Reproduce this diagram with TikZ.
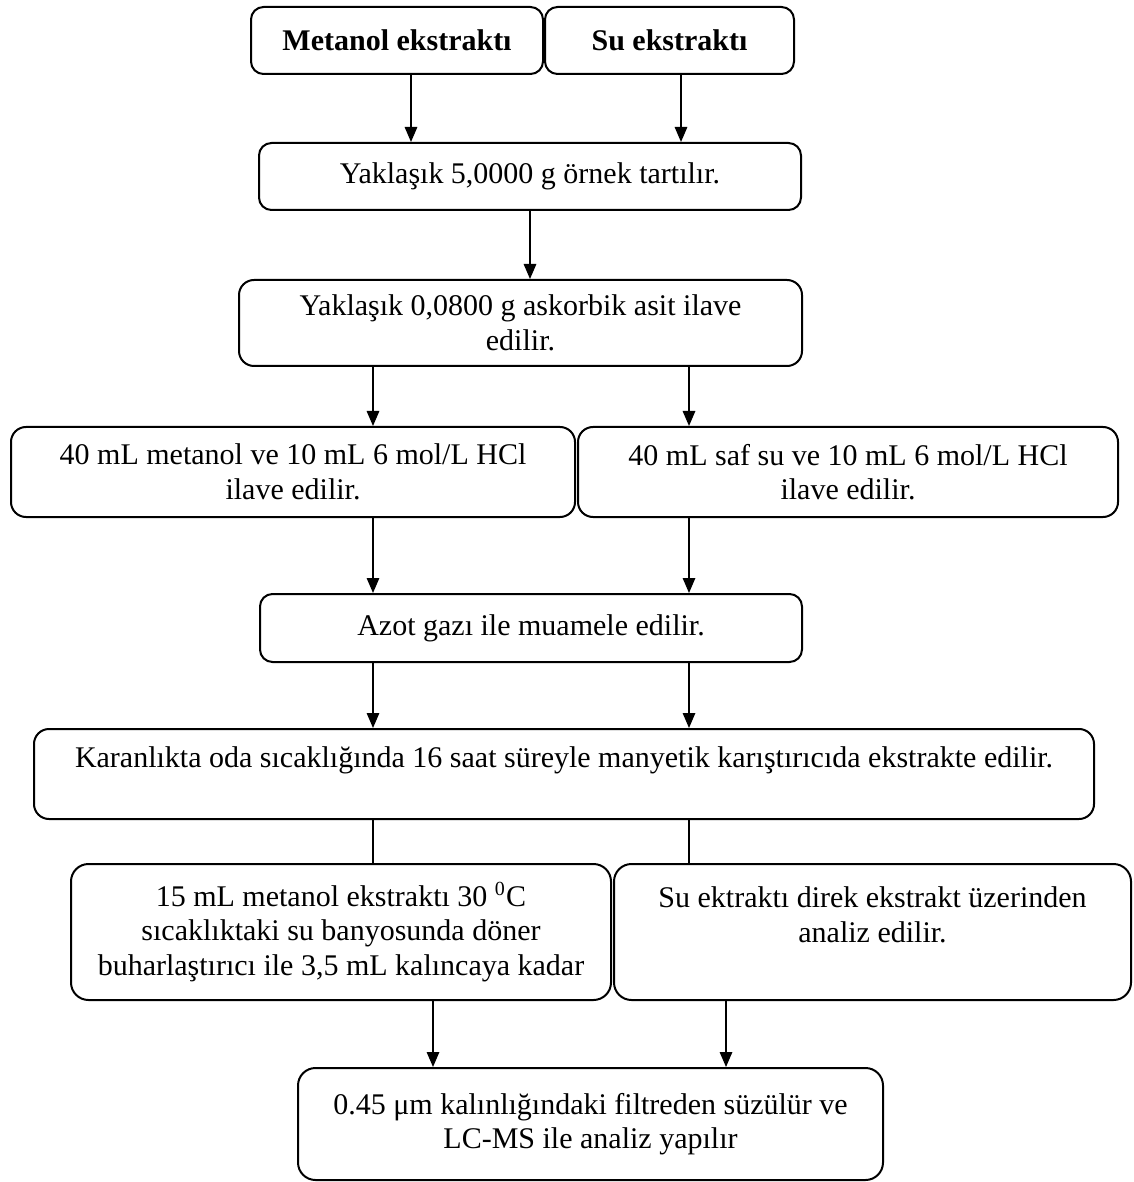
\documentclass[tikz,border=0pt]{standalone}
\usepackage{fontspec}
\setmainfont{Liberation Serif}
\usetikzlibrary{arrows.meta, positioning}

\begin{document}
\begin{tikzpicture}[
        node distance = 2cm, on grid,
        >= {Triangle[length = 6pt, width = 5pt]},
        stepbox/.style = {draw, thick, rounded corners = 6pt, align = center,
            inner sep = 0pt, font = \fontsize{12}{13.8}\selectfont},
        titlebox/.style = {stepbox, rounded corners = 5pt,
            font = \fontsize{12}{13.8}\selectfont\bfseries},
        link/.style = {line width = 0.6pt},
        flow/.style = {link, ->}
    ]
      \useasboundingbox (0,0) rectangle (453.2pt,-472.8pt);

      \node[titlebox, minimum width = 116.8pt, minimum height = 26.8pt] (met) at (158.8pt,-16.2pt) {Metanol ekstraktı};
      \node[titlebox, minimum width = 99.6pt, minimum height = 26.8pt] (su) [right = 109pt of met] {Su ekstraktı};
      \node[stepbox, rounded corners = 5pt, minimum width = 216.8pt, minimum height = 26.8pt] (yak) [below right = 54.4pt and 53.2pt of met] {Yaklaşık 5,0000 g örnek tartılır.};
      \node[stepbox, minimum width = 225.2pt, minimum height = 34.4pt] (ask) [below left = 58.6pt and 3.8pt of yak] {Yaklaşık 0,0800 g askorbik asit ilave\\ edilir.};
      \node[stepbox, minimum width = 225.6pt, minimum height = 36pt] (hclmet) [below left = 59.6pt and 91pt of ask] {40 mL metanol ve 10 mL 6 mol/L HCl\\ ilave edilir.};
      \node[stepbox, minimum width = 216pt, minimum height = 36pt] (hclsu) [right = 222pt of hclmet] {40 mL saf su ve 10 mL 6 mol/L HCl\\ ilave edilir.};
      \node[stepbox, rounded corners = 5pt, minimum width = 216.8pt, minimum height = 27.2pt] (azot) [below right = 62.4pt and 95.2pt of hclmet] {Azot gazı ile muamele edilir.};
      \node[stepbox, minimum width = 424pt, minimum height = 36pt] (kar) [below right = 58.4pt and 13.2pt of azot] {Karanlıkta oda sıcaklığında 16 saat süreyle manyetik karıştırıcıda ekstrakte edilir.\\ ~};
      \node[stepbox, rounded corners = 7pt, minimum width = 216pt, minimum height = 54.4pt] (evap) [below left = 63.2pt and 89.2pt of kar] {15 mL metanol ekstraktı 30 \textsuperscript{0}C\\ sıcaklıktaki su banyosunda döner\\ buharlaştırıcı ile 3,5 mL kalıncaya kadar};
      \node[stepbox, rounded corners = 7pt, minimum width = 206.8pt, minimum height = 54.4pt] (direk) [right = 212.6pt of evap] {Su ektraktı direk ekstrakt üzerinden\\ analiz edilir.\\ ~};
      \node[stepbox, rounded corners = 7pt, minimum width = 234pt, minimum height = 44.8pt] (filt) [below right = 76.8pt and 99.8pt of evap] {0.45 μm kalınlığındaki filtreden süzülür ve\\ LC-MS ile analiz yapılır};

      % columns of the connectors
      \coordinate (colmet) at (164.4pt,0);
      \coordinate (colsu) at (272.4pt,0);
      \coordinate (colmid) at (212pt,0);
      \coordinate (colleft) at (149.2pt,0);
      \coordinate (colright) at (275.6pt,0);
      \coordinate (colevap) at (173.2pt,0);
      \coordinate (coldirek) at (290.4pt,0);

      \draw[flow] (met.south -| colmet) -- (yak.north -| colmet);
      \draw[flow] (su.south -| colsu) -- (yak.north -| colsu);
      \draw[flow] (yak.south -| colmid) -- (ask.north -| colmid);
      \draw[flow] (ask.south -| colleft) -- (hclmet.north -| colleft);
      \draw[flow] (ask.south -| colright) -- (hclsu.north -| colright);
      \draw[flow] (hclmet.south -| colleft) -- (azot.north -| colleft);
      \draw[flow] (hclsu.south -| colright) -- (azot.north -| colright);
      \draw[flow] (azot.south -| colleft) -- (kar.north -| colleft);
      \draw[flow] (azot.south -| colright) -- (kar.north -| colright);
      \draw[link] (kar.south -| colleft) -- (evap.north -| colleft);
      \draw[link] (kar.south -| colright) -- (direk.north -| colright);
      \draw[flow] (evap.south -| colevap) -- (filt.north -| colevap);
      \draw[flow] (direk.south -| coldirek) -- (filt.north -| coldirek);
\end{tikzpicture}
\end{document}
